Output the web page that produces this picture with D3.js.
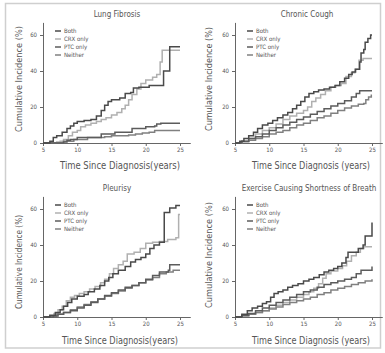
<!DOCTYPE html>
<html>
<head>
<meta charset="utf-8">
<script src="https://cdn.jsdelivr.net/npm/d3@7"></script>
<style>
  body { margin: 0; background: #fff; }
  text { font-family: "Liberation Sans Narrow", "DejaVu Sans Condensed", "Liberation Sans", sans-serif; fill: #555; }
</style>
</head>
<body>
<div id="chart"></div>
<script>
// series names and tick values
const seriesNames = ['Both', 'CRX only', 'PTC only', 'Neither'];
const panelTitles = ['Lung Fibrosis', 'Chronic Cough', 'Pleurisy', 'Exercise Causing Shortness of Breath'];
const xTicks = [5, 10, 15, 20, 25];
const yTicks = [0, 20, 40, 60];

// Lung Fibrosis
const lungBoth = [[5,0],[6,1],[6.5,3],[7,4],[7.8,6],[8.5,8],[9,9.5],[9.5,11],[10,12],[11,12.5],[12,13],[12.8,15],[13.5,18],[14,21],[14.5,23],[15,24],[16.2,25],[17,27.5],[17.8,28],[18.2,30.5],[19,31],[20.5,32],[22.6,40],[23.5,53.5],[25,53.5]];
const lungCrx = [[5,0],[7,0.5],[7.5,1],[8,2],[8.7,4],[9.3,6],[10,7],[10.5,9],[11.2,10],[12,11],[12.8,12],[13.5,13],[14.2,14],[15,15.5],[15.8,17],[16.5,19],[17,21],[17.5,24],[18,27],[18.7,30],[19.3,33],[20,35],[21,36.5],[21.6,38],[22.1,45],[22.4,51.5],[25,51.5]];
const lungPtc = [[5,0],[8,0.5],[8.5,1.5],[9,2],[10,3],[13.2,3],[13.5,5],[15.5,6],[18,8],[20,9],[21.3,9.5],[21.6,10.5],[22.2,11],[25,11]];
const lungNeither = [[5,0],[8,1],[9.5,2],[11.5,3],[14,3.5],[15,4],[17.5,4.5],[18.5,5],[19.5,5.5],[20.5,6],[21.3,7],[25,7]];

// Chronic Cough
const coughBoth = [[5,0],[5.7,1],[6.3,2.5],[7,4],[7.7,6],[8.3,8],[9,10],[9.8,11],[10.5,12.5],[11.2,14],[12,15.5],[12.7,17],[13.4,19],[14,21],[14.6,23],[15.2,25.5],[15.8,27.5],[16.5,28.5],[17.2,29.5],[18,30],[18.8,31],[19.6,32],[20.3,34],[21,36],[21.6,38],[22.1,39.5],[22.6,41],[23.2,45],[23.4,50],[23.8,52],[24,56],[24.4,58],[24.8,60],[25,60]];
const coughCrx = [[5,0],[6,1],[7,2.5],[8,5],[9,7],[10,8.5],[11,10.5],[12,13],[13,15],[14,16.5],[15,18],[15.6,20],[16.2,23],[16.8,25],[17.5,27],[18.2,29],[19,31],[19.7,32],[20.5,33],[21.2,37],[22,39],[22.5,41],[23.1,46],[23.7,47],[25,47]];
const coughPtc = [[5,0],[6,1],[7,2.5],[8,3.5],[9,5],[10,7],[11,8.5],[12,10],[13,11.5],[14,13],[15,14.5],[16,16],[17,17.5],[18,19],[19,20.5],[20,22],[21,23.5],[22,25.5],[22.7,27.5],[23.2,29],[25,29]];
const coughNeither = [[5,0],[6,0.7],[7,1.5],[8,2.5],[9,3.5],[10,5],[11,6],[12,7],[13,8.5],[14,10],[15,11],[16,12.5],[17,14],[18,15],[19,16.5],[20,18],[21,19.5],[22,20.5],[23,21.5],[23.8,22],[24.1,24],[24.5,25.5],[24.9,26.5],[25,26.5]];

// Pleurisy
const pleuBoth = [[5,0],[6,1],[6.8,2.5],[7.5,4],[8,6],[8.6,8],[9.2,10],[10,11.5],[11,12.5],[11.6,14],[12.5,15.5],[13.3,17.5],[14,20],[14.6,22],[15.2,24],[16,26],[17,28],[17.8,30.5],[18.5,32],[19.3,33],[20,35],[20.6,38],[21.2,40],[22,41.5],[22.7,58],[23.5,60.5],[24.4,62],[25,62]];
const pleuCrx = [[5,0],[6,0.5],[6.6,2],[7.2,4],[7.8,6],[8.4,9],[9,11],[9.6,12],[10.3,13],[11,14],[11.8,15.5],[12.6,17],[13.4,19],[14,21],[14.7,24],[15.3,27],[16,29],[16.7,31],[17.3,35],[18.3,36],[19.2,38],[20,41],[21,41.5],[22,42],[23.2,43],[24.4,44],[24.8,57],[25,57]];
const pleuPtc = [[5,0],[6.5,0.5],[7.2,1.5],[8,2.5],[9,3.5],[10,5],[11,6.5],[12,8],[13,10],[14,12],[15,13.5],[16,15],[17,16.5],[18,17.5],[19,19],[20,21],[21,23],[22,25],[23.3,26],[23.5,29],[25,29]];
const pleuNeither = [[5,0],[6,0.5],[7,1.5],[8,2.5],[9,4],[10,5.5],[11,7],[12,8.5],[13,10],[14,11.5],[15,13],[16,14.5],[17,16],[18,17.5],[19,19],[20,20.5],[21,22],[22,24],[23,25],[24,26],[25,26]];

// Exercise Causing Shortness of Breath
const exBoth = [[5,0],[6,1.5],[6.8,3.5],[7.5,5],[8.3,6],[9,7.5],[9.6,8.5],[10.2,11],[10.7,13],[11.3,14],[12,15],[12.7,16.5],[13.4,17.5],[14.2,18.5],[15,20],[15.8,21],[16.5,22],[17.3,23.5],[18,25],[18.7,26],[19.4,27],[20,28],[20.6,30],[21.2,33],[21.5,36],[22.5,36],[23,38],[23.7,40],[24,45],[24.8,45],[25,52.5]];
const exCrx = [[5,0],[6,0.5],[7,1.5],[8,2.5],[9,3.5],[10,5],[11,6.5],[12,8],[13,9.5],[14,11],[15,12.5],[15.8,14],[16.5,16],[17.2,18.5],[17.8,21.5],[18.3,24],[19,25.5],[20,27],[20.7,28.5],[21.3,31],[22,34],[22.7,36],[23.3,38],[23.8,39],[25,39]];
const exPtc = [[5,0],[6,1],[7,2],[8,3.5],[9,5],[10,6.5],[11,8],[12,9.5],[13,11],[14,12.5],[15,14],[16,15],[17,16.5],[18,18],[19,19],[20,20],[21,21],[22,22],[22.7,24],[23.4,26],[24.8,26],[25,28]];
const exNeither = [[5,0],[6,0.7],[7,1.5],[8,2.5],[9,3.5],[10,4.5],[11,5.5],[12,7],[13,8],[14,9],[15,10],[16,11],[17,12.5],[18,13.5],[19,15],[20,16],[21,17],[22,18],[23,19],[24,20],[25,21]];

const panelData = [
  [lungBoth, lungCrx, lungPtc, lungNeither],
  [coughBoth, coughCrx, coughPtc, coughNeither],
  [pleuBoth, pleuCrx, pleuPtc, pleuNeither],
  [exBoth, exCrx, exPtc, exNeither]
];

const colors = ['#4a4a4a', '#b0b0b0', '#5c5c5c', '#808080'];

// layout of each panel: origin of the plot (x of y-axis, y of x-axis)
const panels = [
  { ox: 43, oy: 143, titleX: 117, titleY: 17, xLabX: 120, xLabY: 169, xLabW: 120, yLabX: 22, yLabY: 79, yLabW: 106 },
  { ox: 235, oy: 143, titleX: 307, titleY: 17, xLabX: 311, xLabY: 169, xLabW: 118, yLabX: 212, yLabY: 79, yLabW: 104 },
  { ox: 43, oy: 317, titleX: 117, titleY: 191, xLabX: 120, xLabY: 344, xLabW: 116, yLabX: 22, yLabY: 262, yLabW: 94 },
  { ox: 235, oy: 317, titleX: 309, titleY: 191, xLabX: 311, xLabY: 344, xLabW: 118, yLabX: 212, yLabY: 255, yLabW: 106 }
];

const width = 385;
const height = 353;
const plotW = 137 * 21.5 / 20; // axis runs a bit beyond 25
const unitY = 1.8;

const svg = d3.select('#chart').append('svg')
  .attr('width', width)
  .attr('height', height);

svg.append('rect')
  .attr('x', 5.5).attr('y', 3.5)
  .attr('width', 375).attr('height', 344.5)
  .attr('fill', '#fff')
  .attr('stroke', '#cfcfcf')
  .attr('stroke-width', 1.5);

panels.forEach((p, pi) => {
  const g = svg.append('g')
    .attr('transform', `translate(${p.ox}, ${p.oy})`);

  const xScale = d3.scaleLinear()
    .domain([5, 26.5])
    .range([0, plotW]);

  const yScale = d3.scaleLinear()
    .domain([0, 67])
    .range([0, -67 * unitY]);

  /* axes */
  const xAxis = d3.axisBottom(xScale).tickValues(xTicks).tickSize(3).tickSizeOuter(0).tickPadding(2);
  const yAxis = d3.axisLeft(yScale).tickValues(yTicks).tickSize(3).tickSizeOuter(0).tickPadding(3);

  const gx = g.append('g').call(xAxis);
  const gy = g.append('g').call(yAxis);
  [gx, gy].forEach(a => {
    a.select('.domain').attr('stroke', '#666').attr('stroke-width', 1);
    a.selectAll('.tick line').attr('stroke', '#666');
    a.selectAll('.tick text')
      .style('font-size', '6px')
      .attr('fill', '#666');
  });

  /* lines */
  const line = d3.line()
    .x(d => xScale(d[0]))
    .y(d => yScale(d[1]))
    .curve(d3.curveStepAfter);

  // draw light ones first so the dark ones stay on top
  const order = [1, 3, 2, 0];
  order.forEach(i => {
    g.append('path')
      .attr('fill', 'none')
      .attr('stroke', colors[i])
      .attr('stroke-width', 1.5)
      .attr('d', line(panelData[pi][i]));
  });

  /* legend */
  const legend = g.append('g')
    .attr('transform', `translate(12, ${-112})`);
  seriesNames.forEach((name, i) => {
    legend.append('line')
      .attr('x1', 0).attr('x2', 6)
      .attr('y1', i * 8).attr('y2', i * 8)
      .attr('stroke', colors[i])
      .attr('stroke-width', 1.5);
    legend.append('text')
      .attr('x', 9)
      .attr('y', i * 8 + 2.2)
      .style('font-size', '6px')
      .text(name);
  });

  /* titles and axis labels */
  svg.append('text')
    .attr('x', p.titleX)
    .attr('y', p.titleY)
    .attr('text-anchor', 'middle')
    .style('font-size', '8px')
    .text(panelTitles[pi]);

  svg.append('text')
    .attr('x', p.xLabX - p.xLabW / 2)
    .attr('y', p.xLabY)
    .attr('textLength', p.xLabW)
    .attr('lengthAdjust', 'spacingAndGlyphs')
    .style('font-size', '10px')
    .text(pi === 0 || pi === 2 ? 'Time Since Diagnosis(years)' : 'Time Since Diagnosis (years)');

  svg.append('text')
    .attr('transform', `translate(${p.yLabX}, ${p.yLabY + p.yLabW / 2}) rotate(-90)`)
    .attr('textLength', p.yLabW)
    .attr('lengthAdjust', 'spacingAndGlyphs')
    .style('font-size', '9px')
    .text('Cumulative Incidence (%)');
});
</script>
</body>
</html>
